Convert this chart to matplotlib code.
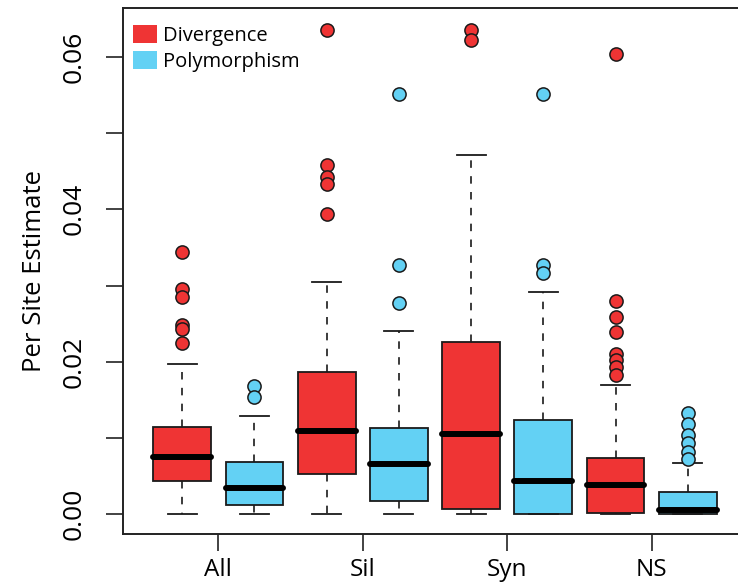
import numpy as np
import matplotlib
matplotlib.use("Agg")
import matplotlib.pyplot as plt
from matplotlib.patches import Patch

plt.rcParams['font.family'] = ['Open Sans', 'DejaVu Sans']

# Box statistics, order: All, Sil, Syn, NS
groups = ['All', 'Sil', 'Syn', 'NS']

div_q1     = [0.00429, 0.00530, 0.00070, 0.00017]
div_med    = [0.00753, 0.01085, 0.01050, 0.00381]
div_q3     = [0.01146, 0.01864, 0.02254, 0.00739]
div_whislo = [0.0, 0.0, 0.0, 0.0]
div_whishi = [0.01965, 0.0305, 0.0472, 0.0170]
div_fliers = [
    [0.0344, 0.0295, 0.0285, 0.0248, 0.0243, 0.0224],
    [0.0636, 0.0458, 0.0443, 0.0433, 0.0394],
    [0.0636, 0.0622],
    [0.0604, 0.0280, 0.0259, 0.0239, 0.0210, 0.0202, 0.0193, 0.0182],
]

pol_q1     = [0.00123, 0.00171, 0.0, 0.0]
pol_med    = [0.00337, 0.00652, 0.00433, 0.00053]
pol_q3     = [0.00678, 0.01133, 0.01234, 0.00285]
pol_whislo = [0.0, 0.0, 0.0, 0.0]
pol_whishi = [0.01287, 0.0240, 0.0291, 0.00665]
pol_fliers = [
    [0.01685, 0.01532],
    [0.0551, 0.0327, 0.0277],
    [0.0551, 0.0327, 0.0317],
    [0.01322, 0.01178, 0.01037, 0.00928, 0.00818, 0.00718],
]

red = '#EF3434'
blue = '#63D1F4'


def make_stats(q1, med, q3, lo, hi, fl):
    return [dict(q1=a, med=b, q3=c, whislo=d, whishi=e, fliers=f)
            for a, b, c, d, e, f in zip(q1, med, q3, lo, hi, fl)]


fig = plt.figure(figsize=(7.38, 5.83), dpi=100)
ax = fig.add_axes([0.1667, 0.084, 0.8455, 0.9023])

pos_div = np.arange(len(groups)) * 2 + 1
pos_pol = pos_div + 1

for stats, pos, col in [
        (make_stats(div_q1, div_med, div_q3, div_whislo, div_whishi, div_fliers), pos_div, red),
        (make_stats(pol_q1, pol_med, pol_q3, pol_whislo, pol_whishi, pol_fliers), pos_pol, blue)]:
    ax.bxp(stats, positions=pos, widths=0.8, patch_artist=True, capwidths=0.4,
           boxprops=dict(facecolor=col, edgecolor='#1a1a1a', linewidth=1.3),
           medianprops=dict(color='black', linewidth=4.3, solid_capstyle='round'),
           whiskerprops=dict(color='#1a1a1a', linewidth=1.2, linestyle=(0, (4.5, 5))),
           capprops=dict(color='#1a1a1a', linewidth=1.3),
           flierprops=dict(marker='o', markerfacecolor=col, markeredgecolor='#1a1a1a',
                           markersize=9.5, markeredgewidth=1.1))

ax.set_xlim(0.18, 8.82)
ax.set_ylim(-0.00263, 0.06644)

ax.set_yticks(np.arange(0, 0.061, 0.01))
ax.set_yticklabels(['0.00', '', '0.02', '', '0.04', '', '0.06'],
                   rotation=90, va='center', fontsize=19)
ax.set_xticks(pos_div + 0.5)
ax.set_xticklabels(groups, fontsize=17.5)
ax.tick_params(axis='y', length=12, width=1.2, pad=14, color='#222222')
ax.tick_params(axis='x', length=12, width=1.2, pad=5, color='#222222')
for s in ax.spines.values():
    s.set_linewidth(1.4)
    s.set_color('#222222')

ax.set_ylabel('Per Site Estimate', fontsize=18.5, labelpad=11)

handles = [Patch(facecolor=red, edgecolor='none', label='Divergence'),
           Patch(facecolor=blue, edgecolor='none', label='Polymorphism')]
ax.legend(handles=handles, loc='upper left', bbox_to_anchor=(-0.0065, 0.9945),
          frameon=False, fontsize=14.5,
          handlelength=1.2, handleheight=1.0, handletextpad=0.3,
          labelspacing=0.25, borderaxespad=0.4, borderpad=0.3)

fig.savefig('out.png', dpi=100)
